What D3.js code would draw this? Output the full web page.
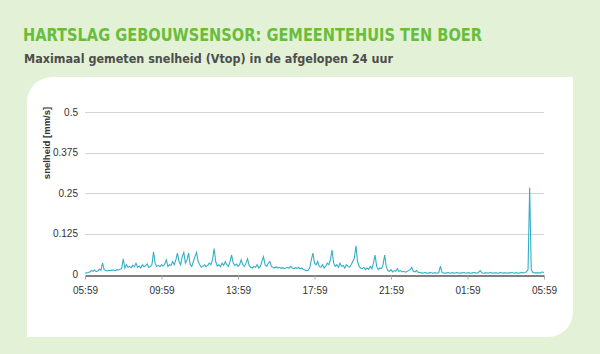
<!DOCTYPE html>
<html>
<head>
<meta charset="utf-8">
<script src="https://cdn.jsdelivr.net/npm/d3@7"></script>
<style>
  body { margin: 0; background: #e3f2d6; }
  svg { display: block; }
</style>
</head>
<body>
<svg id="chart"></svg>
<script>
    // ******************** Data ************************
    var title = "HARTSLAG GEBOUWSENSOR: GEMEENTEHUIS TEN BOER";
    var subtitle = "Maximaal gemeten snelheid (Vtop) in de afgelopen 24 uur";
    var yLabel = "snelheid [mm/s]";
    var startTime = "2016-01-01T05:59";
    var stepMinutes = 5;
    var yTicks = [0, 0.125, 0.25, 0.375, 0.5];
    var yTickLabels = ["0", "0.125", "0.25", "0.375", "0.5"];

    // max velocity every 5 minutes (mm/s)
    var vtop = [
        0.004, 0.005, 0.006, 0.008, 0.012, 0.010, 0.014, 0.009, 0.011, 0.016, 0.013,
        0.036, 0.015, 0.012, 0.011, 0.013, 0.012, 0.014, 0.013, 0.012, 0.015, 0.014, 0.016, 0.018,
        0.048, 0.020, 0.030, 0.022,
        0.025, 0.021, 0.028, 0.024, 0.035, 0.022, 0.026, 0.020, 0.030, 0.024, 0.027, 0.033, 0.022, 0.025, 0.030,
        0.070, 0.035, 0.025, 0.028, 0.024, 0.030, 0.026, 0.032, 0.045, 0.025,
        0.030, 0.028, 0.040, 0.030, 0.045, 0.066, 0.040, 0.030, 0.055, 0.068,
        0.035, 0.045, 0.066, 0.030, 0.025, 0.040, 0.055, 0.068, 0.040, 0.030,
        0.022, 0.025, 0.030, 0.024, 0.028, 0.035, 0.030, 0.045, 0.080, 0.040,
        0.026, 0.030, 0.024, 0.035, 0.028, 0.040, 0.030, 0.025, 0.040, 0.060,
        0.035, 0.028, 0.032, 0.025, 0.030, 0.045, 0.030, 0.025, 0.035, 0.048,
        0.028, 0.022, 0.020, 0.025, 0.022, 0.030, 0.020, 0.025, 0.040, 0.055,
        0.030, 0.025, 0.035, 0.040, 0.025, 0.022, 0.020, 0.024, 0.020, 0.022,
        0.019, 0.021, 0.018, 0.020, 0.022, 0.019, 0.025, 0.020, 0.018, 0.021,
        0.019, 0.022, 0.017, 0.020, 0.016, 0.014, 0.012, 0.013, 0.020, 0.045,
        0.066, 0.035, 0.030, 0.040, 0.025, 0.022, 0.030, 0.020, 0.025, 0.035,
        0.030, 0.045, 0.075, 0.035, 0.025, 0.030, 0.022, 0.035, 0.025, 0.028,
        0.020, 0.030, 0.025, 0.022, 0.030, 0.040, 0.050, 0.088, 0.040, 0.025,
        0.020, 0.018, 0.022, 0.015, 0.020, 0.016, 0.025, 0.018, 0.035, 0.060,
        0.025, 0.015, 0.020, 0.018, 0.030, 0.060, 0.025, 0.012, 0.010, 0.015,
        0.008, 0.012, 0.010, 0.018, 0.009, 0.012, 0.008, 0.010, 0.007, 0.009,
        0.012, 0.015, 0.022, 0.010, 0.008, 0.012, 0.007, 0.006,
        0.005, 0.004, 0.006, 0.005, 0.004, 0.005, 0.006, 0.004, 0.005, 0.005, 0.004, 0.006,
        0.026, 0.006,
        0.005, 0.004, 0.005, 0.006, 0.004, 0.005, 0.005, 0.004, 0.006, 0.005, 0.004, 0.005,
        0.005, 0.006, 0.004, 0.005, 0.005, 0.004, 0.005, 0.006, 0.005, 0.004, 0.007,
        0.012,
        0.005, 0.004, 0.005, 0.005, 0.004, 0.006, 0.005, 0.004, 0.005, 0.005, 0.004, 0.005, 0.006, 0.004,
        0.005, 0.005, 0.004, 0.005, 0.005, 0.006, 0.004, 0.005, 0.005, 0.004, 0.005, 0.006, 0.005, 0.006,
        0.008, 0.015, 0.268, 0.015, 0.006, 0.005, 0.005, 0.005, 0.005, 0.005, 0.008, 0.005
    ];

    // ******************** Globals ************************
    var W = 600, H = 354;
    var t0 = d3.isoParse(startTime);
    var t1 = d3.timeHour.offset(t0, 24);
    var data = vtop.map(function (v, i) {
        return { t: d3.timeMinute.offset(t0, i * stepMinutes), v: v };
    });

    var x = d3.scaleTime().domain([t0, t1]).range([85, 544]);
    var y = d3.scaleLinear().domain([0, 0.5]).range([274.5, 112]);

    var svg = d3.select("#chart").attr("width", W).attr("height", H);

    // heading
    svg.append("text")
        .attr("x", 23).attr("y", 41)
        .attr("textLength", 459).attr("lengthAdjust", "spacingAndGlyphs")
        .style("font-family", "'DejaVu Sans', Verdana, sans-serif")
        .style("font-weight", "bold").style("font-size", "17.5px")
        .style("fill", "#69bd3a")
        .text(title);

    svg.append("text")
        .attr("x", 24).attr("y", 63)
        .attr("textLength", 369).attr("lengthAdjust", "spacingAndGlyphs")
        .style("font-family", "'DejaVu Sans', Verdana, sans-serif")
        .style("font-weight", "bold").style("font-size", "12.5px")
        .style("fill", "#4d4d4d")
        .text(subtitle);

    // white panel, rounded top-left and bottom-right
    var L = 27, R = 573, T = 77, B = 337, r = 25;
    svg.append("path")
        .attr("d", "M" + (L + r) + "," + T + " H" + R + " V" + (B - r) +
            " A" + r + "," + r + " 0 0 1 " + (R - r) + "," + B +
            " H" + L + " V" + (T + r) +
            " A" + r + "," + r + " 0 0 1 " + (L + r) + "," + T + " Z")
        .style("fill", "#ffffff");

    // gridlines
    svg.append("g")
        .selectAll("line")
        .data(yTicks.filter(function (d) { return d > 0; }))
        .enter()
        .append("line")
        .attr("x1", x.range()[0]).attr("x2", x.range()[1])
        .attr("y1", function (d) { return Math.round(y(d)) + 0.5; })
        .attr("y2", function (d) { return Math.round(y(d)) + 0.5; })
        .style("stroke", "#d4d4d4").style("stroke-width", 1);

    // y labels
    svg.append("g")
        .selectAll("text")
        .data(yTicks)
        .enter()
        .append("text")
        .attr("x", 78)
        .attr("y", function (d) { return y(d) + 3.5; })
        .attr("text-anchor", "end")
        .style("font-family", "'Liberation Sans', Arial, sans-serif")
        .style("font-size", "10px")
        .style("fill", "#333")
        .text(function (d, i) { return yTickLabels[i]; });

    svg.append("text")
        .attr("transform", "translate(50,143) rotate(-90)")
        .attr("text-anchor", "middle")
        .style("font-family", "'Liberation Sans', Arial, sans-serif")
        .style("font-size", "9.5px").style("font-weight", "bold")
        .style("fill", "#333")
        .text(yLabel);

    // the line
    var line = d3.line()
        .x(function (d) { return x(d.t); })
        .y(function (d) { return y(d.v); });

    svg.append("path")
        .datum(data)
        .attr("d", line)
        .style("fill", "none")
        .style("stroke", "#35afc7")
        .style("stroke-width", 1.1);

    // x axis
    var xAxis = d3.axisBottom(x)
        .tickValues(d3.range(0, 7).map(function (i) { return d3.timeHour.offset(t0, i * 4); }))
        .tickFormat(d3.timeFormat("%H:%M"))
        .tickSizeInner(4).tickSizeOuter(0).tickPadding(7);

    var gx = svg.append("g")
        .attr("transform", "translate(0," + (Math.round(y(0)) + 0.5) + ")")
        .call(xAxis);
    gx.select(".domain").style("stroke", "#555").style("stroke-width", 1.5);
    gx.selectAll(".tick line").style("stroke", "#aaa");
    gx.selectAll("text")
        .style("font-family", "'Liberation Sans', Arial, sans-serif")
        .style("font-size", "10px")
        .style("fill", "#333");
</script>
</body>
</html>
